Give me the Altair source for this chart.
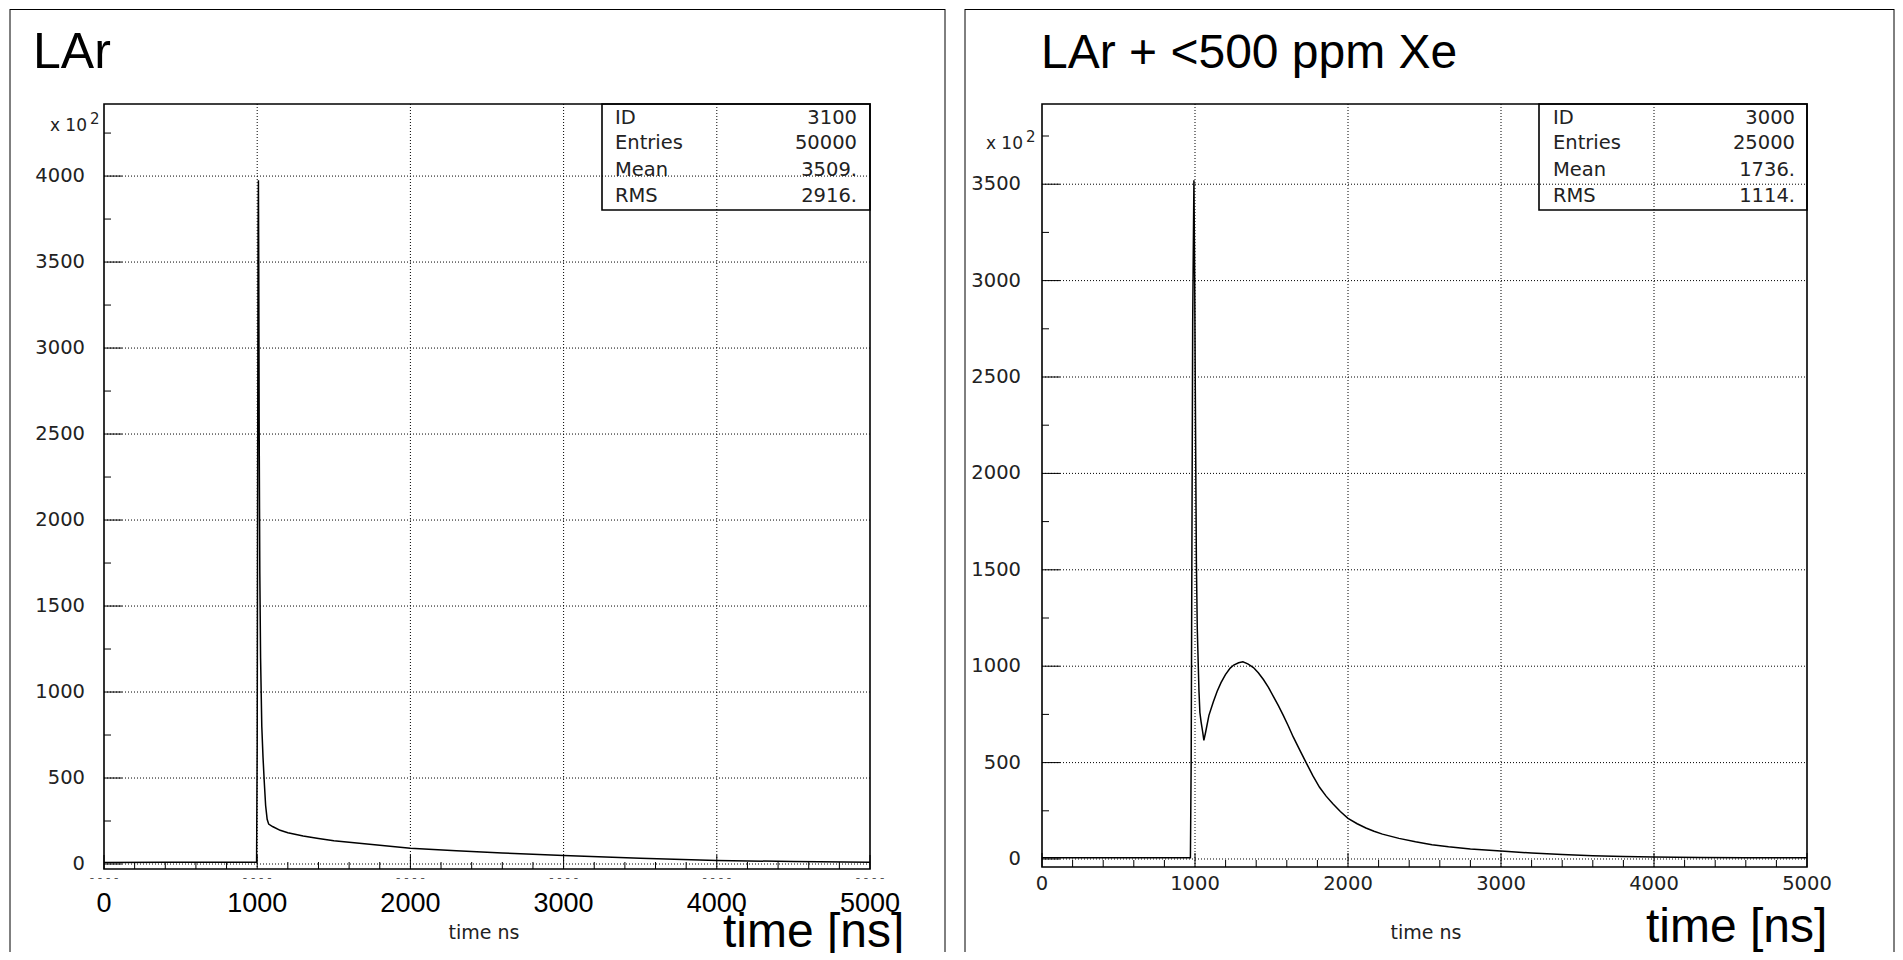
import altair as alt
import pandas as pd

# ---------------- data ----------------
lar_t = [0, 400, 800, 996, 1000, 1003, 1006, 1008, 1010, 1013, 1017, 1022, 1030, 1038,
         1046, 1055, 1065, 1075, 1100, 1150, 1200, 1300, 1400, 1500, 1700, 2000, 2300,
         2600, 3000, 3500, 4000, 4500, 5000]
lar_v = [9, 10, 10, 10, 700, 2300, 3700, 3975, 3500, 2500, 1700, 1200, 800, 620,
         480, 340, 260, 232, 218, 196, 182, 163, 148, 135, 118, 92, 77,
         64, 49, 33, 21, 14, 10]

xe_t = [0, 500, 970, 975, 978, 985, 993, 998, 1002, 1009, 1015, 1026, 1032, 1040, 1050,
        1058, 1070, 1091, 1120, 1145, 1170, 1199, 1230, 1253, 1285, 1313, 1345, 1382,
        1415, 1447, 1480, 1512, 1545, 1577, 1610, 1642, 1685, 1728, 1770, 1814, 1857,
        1901, 1950, 2000, 2060, 2117, 2170, 2225, 2333, 2441, 2549, 2657, 2800, 3000,
        3200, 3400, 3600, 3800, 4000, 4300, 4600, 5000]
xe_v = [6, 6, 6, 500, 1200, 2800, 3520, 3000, 2430, 1540, 1190, 870, 760, 710, 660,
        615, 660, 745, 815, 870, 915, 956, 990, 1006, 1018, 1023, 1012, 993,
        965, 931, 890, 844, 795, 745, 690, 633, 565, 497, 432, 372, 326,
        286, 246, 211, 183, 161, 144, 129, 107, 89, 74, 63, 52, 41,
        31, 23, 17, 13, 10, 8, 7, 6]

stat_names = ["ID", "Entries", "Mean", "RMS"]
lar_stats = ["3100", "50000", "3509.", "2916."]
xe_stats = ["3000", "25000", "1736.", "1114."]

x_major = [0, 1000, 2000, 3000, 4000, 5000]
x_minor = [200, 400, 600, 800, 1200, 1400, 1600, 1800, 2200, 2400, 2600, 2800,
           3200, 3400, 3600, 3800, 4200, 4400, 4600, 4800]
x_grid = [1000, 2000, 3000, 4000]
x_labels = ["0", "1000", "2000", "3000", "4000", "5000"]

lar_y_major = [0, 500, 1000, 1500, 2000, 2500, 3000, 3500, 4000]
lar_y_minor = [250, 750, 1250, 1750, 2250, 2750, 3250, 3750, 4250]
xe_y_major = [0, 500, 1000, 1500, 2000, 2500, 3000, 3500]
xe_y_minor = [250, 750, 1250, 1750, 2250, 2750, 3250, 3750]

title_left = "LAr"
title_right = "LAr + <500 ppm Xe"
axis_small = "time ns"
axis_big = "time [ns]"

# ---------------- styling ----------------
H = 944
ROOT_FONT = "DejaVu Sans"
HELV = "Liberation Sans, Arial, sans-serif"
ROOT_COL = "#222222"
ONE = pd.DataFrame({"k": [0]})


def txt(s, x, y, size, font, align="left", baseline="middle", color="black", clip=False):
    return alt.Chart(ONE).mark_text(
        text=s, align=align, baseline=baseline, font=font, fontSize=size,
        color=color, clip=clip
    ).encode(x=alt.value(x), y=alt.value(y))


def panel(W, fl, fr, px0, px1, py0, py1, ydom, t, v, ymaj, ymin, stats,
          box_x0, stat_xl, stat_xr, ylab_x, x10_y, xlab_y, xlab_big,
          tns_x, big_x, big_y, title, title_x, title_size, dashes):
    sx = alt.Scale(domain=[0, 5000], range=[px0, px1], nice=False, zero=False)
    sy = alt.Scale(domain=ydom, range=[py1, py0], nice=False, zero=False)
    L = []
    # panel frame
    L.append(alt.Chart(ONE).mark_rule(color="black", strokeWidth=1).encode(
        x=alt.value(fl), x2=alt.value(fr), y=alt.value(0.5)))
    for fx in (fl, fr):
        L.append(alt.Chart(ONE).mark_rule(color="black", strokeWidth=1).encode(
            x=alt.value(fx), y=alt.value(0), y2=alt.value(H - 1)))
    # stats box
    L.append(alt.Chart(ONE).mark_rect(fill="white", stroke="black", strokeWidth=1.6).encode(
        x=alt.value(box_x0), x2=alt.value(px1), y=alt.value(py0), y2=alt.value(py0 + 106)))
    for name, val, yy in zip(stat_names, stats, [109, 134, 161, 187]):
        L.append(txt(name, stat_xl, yy, 19.5, ROOT_FONT, "left", color=ROOT_COL))
        L.append(txt(val, stat_xr, yy, 19.5, ROOT_FONT, "right", color=ROOT_COL))
    # grid
    L.append(alt.Chart(pd.DataFrame({"g": x_grid})).mark_rule(
        color="black", strokeWidth=1, strokeDash=[1, 2]).encode(
        x=alt.X("g:Q", scale=sx, axis=None), y=alt.value(py0), y2=alt.value(py1)))
    L.append(alt.Chart(pd.DataFrame({"g": ymaj})).mark_rule(
        color="black", strokeWidth=1, strokeDash=[1, 2]).encode(
        y=alt.Y("g:Q", scale=sy, axis=None), x=alt.value(px0), x2=alt.value(px1)))
    # curve
    L.append(alt.Chart(pd.DataFrame({"t": t, "v": v})).mark_line(
        color="black", strokeWidth=1.5).encode(
        x=alt.X("t:Q", scale=sx, axis=None), y=alt.Y("v:Q", scale=sy, axis=None)))
    # plot frame
    L.append(alt.Chart(ONE).mark_rect(fillOpacity=0, stroke="black", strokeWidth=1.6).encode(
        x=alt.value(px0), x2=alt.value(px1), y=alt.value(py0), y2=alt.value(py1)))
    # ticks
    L.append(alt.Chart(pd.DataFrame({"g": x_minor})).mark_rule(color="black", strokeWidth=1).encode(
        x=alt.X("g:Q", scale=sx, axis=None), y=alt.value(py1), y2=alt.value(py1 - 7)))
    L.append(alt.Chart(pd.DataFrame({"g": x_major})).mark_rule(color="black", strokeWidth=1).encode(
        x=alt.X("g:Q", scale=sx, axis=None), y=alt.value(py1), y2=alt.value(py1 - 14)))
    L.append(alt.Chart(pd.DataFrame({"g": ymin})).mark_rule(color="black", strokeWidth=1).encode(
        y=alt.Y("g:Q", scale=sy, axis=None), x=alt.value(px0), x2=alt.value(px0 + 7)))
    L.append(alt.Chart(pd.DataFrame({"g": ymaj})).mark_rule(color="black", strokeWidth=1).encode(
        y=alt.Y("g:Q", scale=sy, axis=None), x=alt.value(px0), x2=alt.value(px0 + 18)))
    # y tick labels
    L.append(alt.Chart(pd.DataFrame({"g": ymaj, "lab": [str(k) for k in ymaj]})).mark_text(
        align="right", baseline="middle", font=ROOT_FONT, fontSize=19.5, color=ROOT_COL).encode(
        y=alt.Y("g:Q", scale=sy, axis=None), x=alt.value(ylab_x), text="lab:N"))
    # x 10^2
    L.append(txt("x 10", ylab_x + 2, x10_y, 17, ROOT_FONT, "right", color=ROOT_COL))
    L.append(txt("2", ylab_x + 5, x10_y - 7, 15, ROOT_FONT, "left", color=ROOT_COL))
    # x tick labels
    xl = pd.DataFrame({"g": x_major, "lab": x_labels})
    if xlab_big:
        L.append(alt.Chart(xl).mark_text(align="center", baseline="middle", font=HELV,
                                         fontSize=27, color="black").encode(
            x=alt.X("g:Q", scale=sx, axis=None), y=alt.value(xlab_y), text="lab:N"))
    else:
        L.append(alt.Chart(xl).mark_text(align="center", baseline="middle", font=ROOT_FONT,
                                         fontSize=19.5, color=ROOT_COL).encode(
            x=alt.X("g:Q", scale=sx, axis=None), y=alt.value(xlab_y), text="lab:N"))
    if dashes:
        L.append(alt.Chart(xl).mark_text(text="- - - -", align="center", baseline="middle",
                                         font=ROOT_FONT, fontSize=12, color="#555555").encode(
            x=alt.X("g:Q", scale=sx, axis=None), y=alt.value(py1 + 9)))
    # axis titles
    L.append(txt(axis_small, tns_x, 924, 19, ROOT_FONT, "center", color=ROOT_COL))
    L.append(txt(axis_big, big_x, big_y, 48, HELV, "left", "alphabetic", clip=True))
    # panel title
    L.append(txt(title, title_x, 59, title_size, HELV, "left", "alphabetic"))
    return alt.layer(*L).properties(width=W, height=H)


left = panel(W=947, fl=2, fr=937, px0=96, px1=862, py0=95, py1=860, ydom=[-29, 4419],
             t=lar_t, v=lar_v, ymaj=lar_y_major, ymin=lar_y_minor, stats=lar_stats,
             box_x0=594, stat_xl=607, stat_xr=849, ylab_x=77, x10_y=117, xlab_y=895,
             xlab_big=True, tns_x=476, big_x=715, big_y=938, title=title_left,
             title_x=25, title_size=50, dashes=True)

right = panel(W=940, fl=10, fr=939, px0=87, px1=852, py0=95, py1=858, ydom=[-41.5, 3916],
              t=xe_t, v=xe_v, ymaj=xe_y_major, ymin=xe_y_minor, stats=xe_stats,
              box_x0=584, stat_xl=598, stat_xr=840, ylab_x=66, x10_y=135, xlab_y=875,
              xlab_big=False, tns_x=471, big_x=691, big_y=933, title=title_right,
              title_x=86, title_size=48, dashes=False)

chart = alt.hconcat(left, right, spacing=0, padding=0).configure_view(strokeWidth=0)

chart.save("out.html", embed_options={"renderer": "svg", "actions": False})
